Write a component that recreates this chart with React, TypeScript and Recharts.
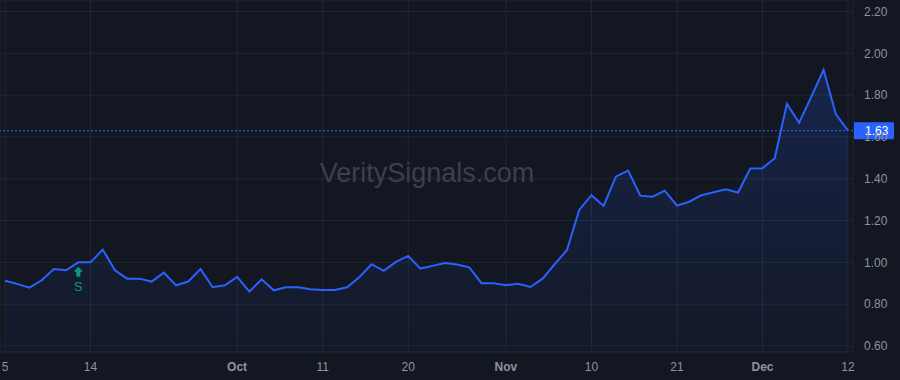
import React from "react";
import {
  AreaChart,
  Area,
  XAxis,
  YAxis,
  CartesianGrid,
  ReferenceLine,
  ReferenceDot,
} from "recharts";

const dates: string[] = [
  "2023-09-05", "2023-09-06", "2023-09-07", "2023-09-08", "2023-09-11", "2023-09-12", "2023-09-13", "2023-09-14", "2023-09-15",
  "2023-09-18", "2023-09-19", "2023-09-20", "2023-09-21", "2023-09-22", "2023-09-25", "2023-09-26", "2023-09-27", "2023-09-28", "2023-09-29",
  "2023-10-02", "2023-10-03", "2023-10-04", "2023-10-05", "2023-10-06", "2023-10-09", "2023-10-10", "2023-10-11", "2023-10-12", "2023-10-13",
  "2023-10-16", "2023-10-17", "2023-10-18", "2023-10-19", "2023-10-20", "2023-10-23", "2023-10-24", "2023-10-25", "2023-10-26", "2023-10-27",
  "2023-10-30", "2023-10-31",
  "2023-11-01", "2023-11-02", "2023-11-03", "2023-11-06", "2023-11-07", "2023-11-08", "2023-11-09", "2023-11-10", "2023-11-13", "2023-11-14",
  "2023-11-15", "2023-11-16", "2023-11-17", "2023-11-20", "2023-11-21", "2023-11-22", "2023-11-24", "2023-11-27", "2023-11-28", "2023-11-29",
  "2023-11-30",
  "2023-12-01", "2023-12-04", "2023-12-05", "2023-12-06", "2023-12-07", "2023-12-08", "2023-12-11", "2023-12-12",
];

const prices: number[] = [
  0.912, 0.897, 0.879, 0.914, 0.968, 0.962, 1.0, 1.0, 1.061, 0.962,
  0.922, 0.922, 0.908, 0.951, 0.89, 0.908, 0.968, 0.881, 0.89, 0.93,
  0.86, 0.919, 0.866, 0.881, 0.881, 0.871, 0.868, 0.868, 0.881, 0.929,
  0.991, 0.959, 1.002, 1.031, 0.97, 0.983, 0.997, 0.99, 0.976, 0.9,
  0.9, 0.89, 0.897, 0.882, 0.922, 0.991, 1.059, 1.251, 1.321, 1.27,
  1.41, 1.439, 1.319, 1.314, 1.343, 1.271, 1.29, 1.321, 1.335, 1.35,
  1.334, 1.449, 1.45, 1.498, 1.758, 1.668, 1.793, 1.921, 1.709, 1.63,
];

const xTickDates: string[] = [
  "2023-09-05", "2023-09-14", "2023-10-02", "2023-10-11", "2023-10-20",
  "2023-11-01", "2023-11-10", "2023-11-21", "2023-12-01", "2023-12-12",
];
const xTickLabels: string[] = ["5", "14", "Oct", "11", "20", "Nov", "10", "21", "Dec", "12"];
const xTickIsMonth: boolean[] = [false, false, true, false, false, true, false, false, true, false];

const yTicks: number[] = [0.6, 0.8, 1.0, 1.2, 1.4, 1.6, 1.8, 2.0, 2.2];

const signalDate = "2023-09-13";
const signalLabel = "S";
const watermark = "VeritySignals.com";

const data = dates.map((d, i) => ({ date: d, price: prices[i] }));
const lastPrice = prices[prices.length - 1];

const BG = "#131722";
const GRID = "#232733";
const TEXT = "#8f939c";
const BLUE = "#2962ff";
const GREEN = "#089981";
const FONT = "'Liberation Sans', Arial, sans-serif";

const XTick = (props: any) => {
  const { x, y, payload } = props;
  const idx = xTickDates.indexOf(payload.value);
  return (
    <text
      x={x}
      y={y + 11}
      textAnchor="middle"
      fill={TEXT}
      fontSize={12}
      fontFamily={FONT}
      fontWeight={xTickIsMonth[idx] ? 700 : 400}
    >
      {xTickLabels[idx]}
    </text>
  );
};

const YTick = (props: any) => {
  const { x, y, payload } = props;
  return (
    <text x={x + 3} y={y + 4.3} textAnchor="start" fill={TEXT} fontSize={12} fontFamily={FONT}>
      {Number(payload.value).toFixed(2)}
    </text>
  );
};

const PriceLabel = (props: any) => {
  const vb = props.viewBox || {};
  const x0 = vb.x + vb.width + 1;
  const y0 = vb.y;
  return (
    <g>
      <rect x={x0} y={y0 - 8.5} width={40} height={17} fill={BLUE} rx={1} />
      <text x={x0 + 11} y={y0 + 4.3} fill="#ffffff" fontSize={12} fontFamily={FONT}>
        {lastPrice.toFixed(2)}
      </text>
    </g>
  );
};

const SignalShape = (props: any) => {
  const { cx, cy } = props;
  if (cx == null || cy == null) return null;
  const top = cy + 4.5;
  return (
    <g>
      <path
        d={`M ${cx} ${top} L ${cx + 4.5} ${top + 5} L ${cx + 2} ${top + 5} L ${cx + 2} ${top + 10} L ${cx - 2} ${top + 10} L ${cx - 2} ${top + 5} L ${cx - 4.5} ${top + 5} Z`}
        fill={GREEN}
      />
      <text x={cx} y={cy + 29} textAnchor="middle" fill={GREEN} fontSize={13} fontFamily={FONT}>
        {signalLabel}
      </text>
    </g>
  );
};

export default function App() {
  return (
    <div style={{ position: "absolute", left: 0, top: 0, width: 900, height: 380, background: BG }}>
      <AreaChart
        width={900}
        height={380}
        data={data}
        margin={{ top: 0, right: 0, bottom: 0, left: 0 }}
      >
        <defs>
          <linearGradient id="areaFill" x1="0" y1="0" x2="0" y2="1">
            <stop offset="0%" stopColor={BLUE} stopOpacity={0.3} />
            <stop offset="100%" stopColor={BLUE} stopOpacity={0.04} />
          </linearGradient>
        </defs>
        <CartesianGrid stroke={GRID} strokeWidth={1} />
        <text
          x={427}
          y={182}
          textAnchor="middle"
          fill="#3c404c"
          fontSize={27}
          fontFamily={FONT}
        >
          {watermark}
        </text>
        <XAxis
          dataKey="date"
          ticks={xTickDates}
          interval={0}
          height={28}
          padding={{ left: 5, right: 5 }}
          axisLine={false}
          tickLine={false}
          tick={<XTick />}
        />
        <YAxis
          orientation="right"
          width={47}
          domain={[0.571, 2.255]}
          ticks={yTicks}
          allowDataOverflow
          axisLine={false}
          tickLine={false}
          tick={<YTick />}
        />
        <Area
          type="linear"
          dataKey="price"
          stroke={BLUE}
          strokeWidth={2}
          fill="url(#areaFill)"
          isAnimationActive={false}
          dot={false}
          activeDot={false}
        />
        <ReferenceDot
          x={signalDate}
          y={prices[dates.indexOf(signalDate)]}
          r={0}
          shape={<SignalShape />}
          ifOverflow="visible"
        />
        <ReferenceLine
          y={lastPrice}
          stroke={BLUE}
          strokeDasharray="2 2"
          strokeWidth={1}
          label={<PriceLabel />}
          ifOverflow="visible"
        />
      </AreaChart>
    </div>
  );
}
